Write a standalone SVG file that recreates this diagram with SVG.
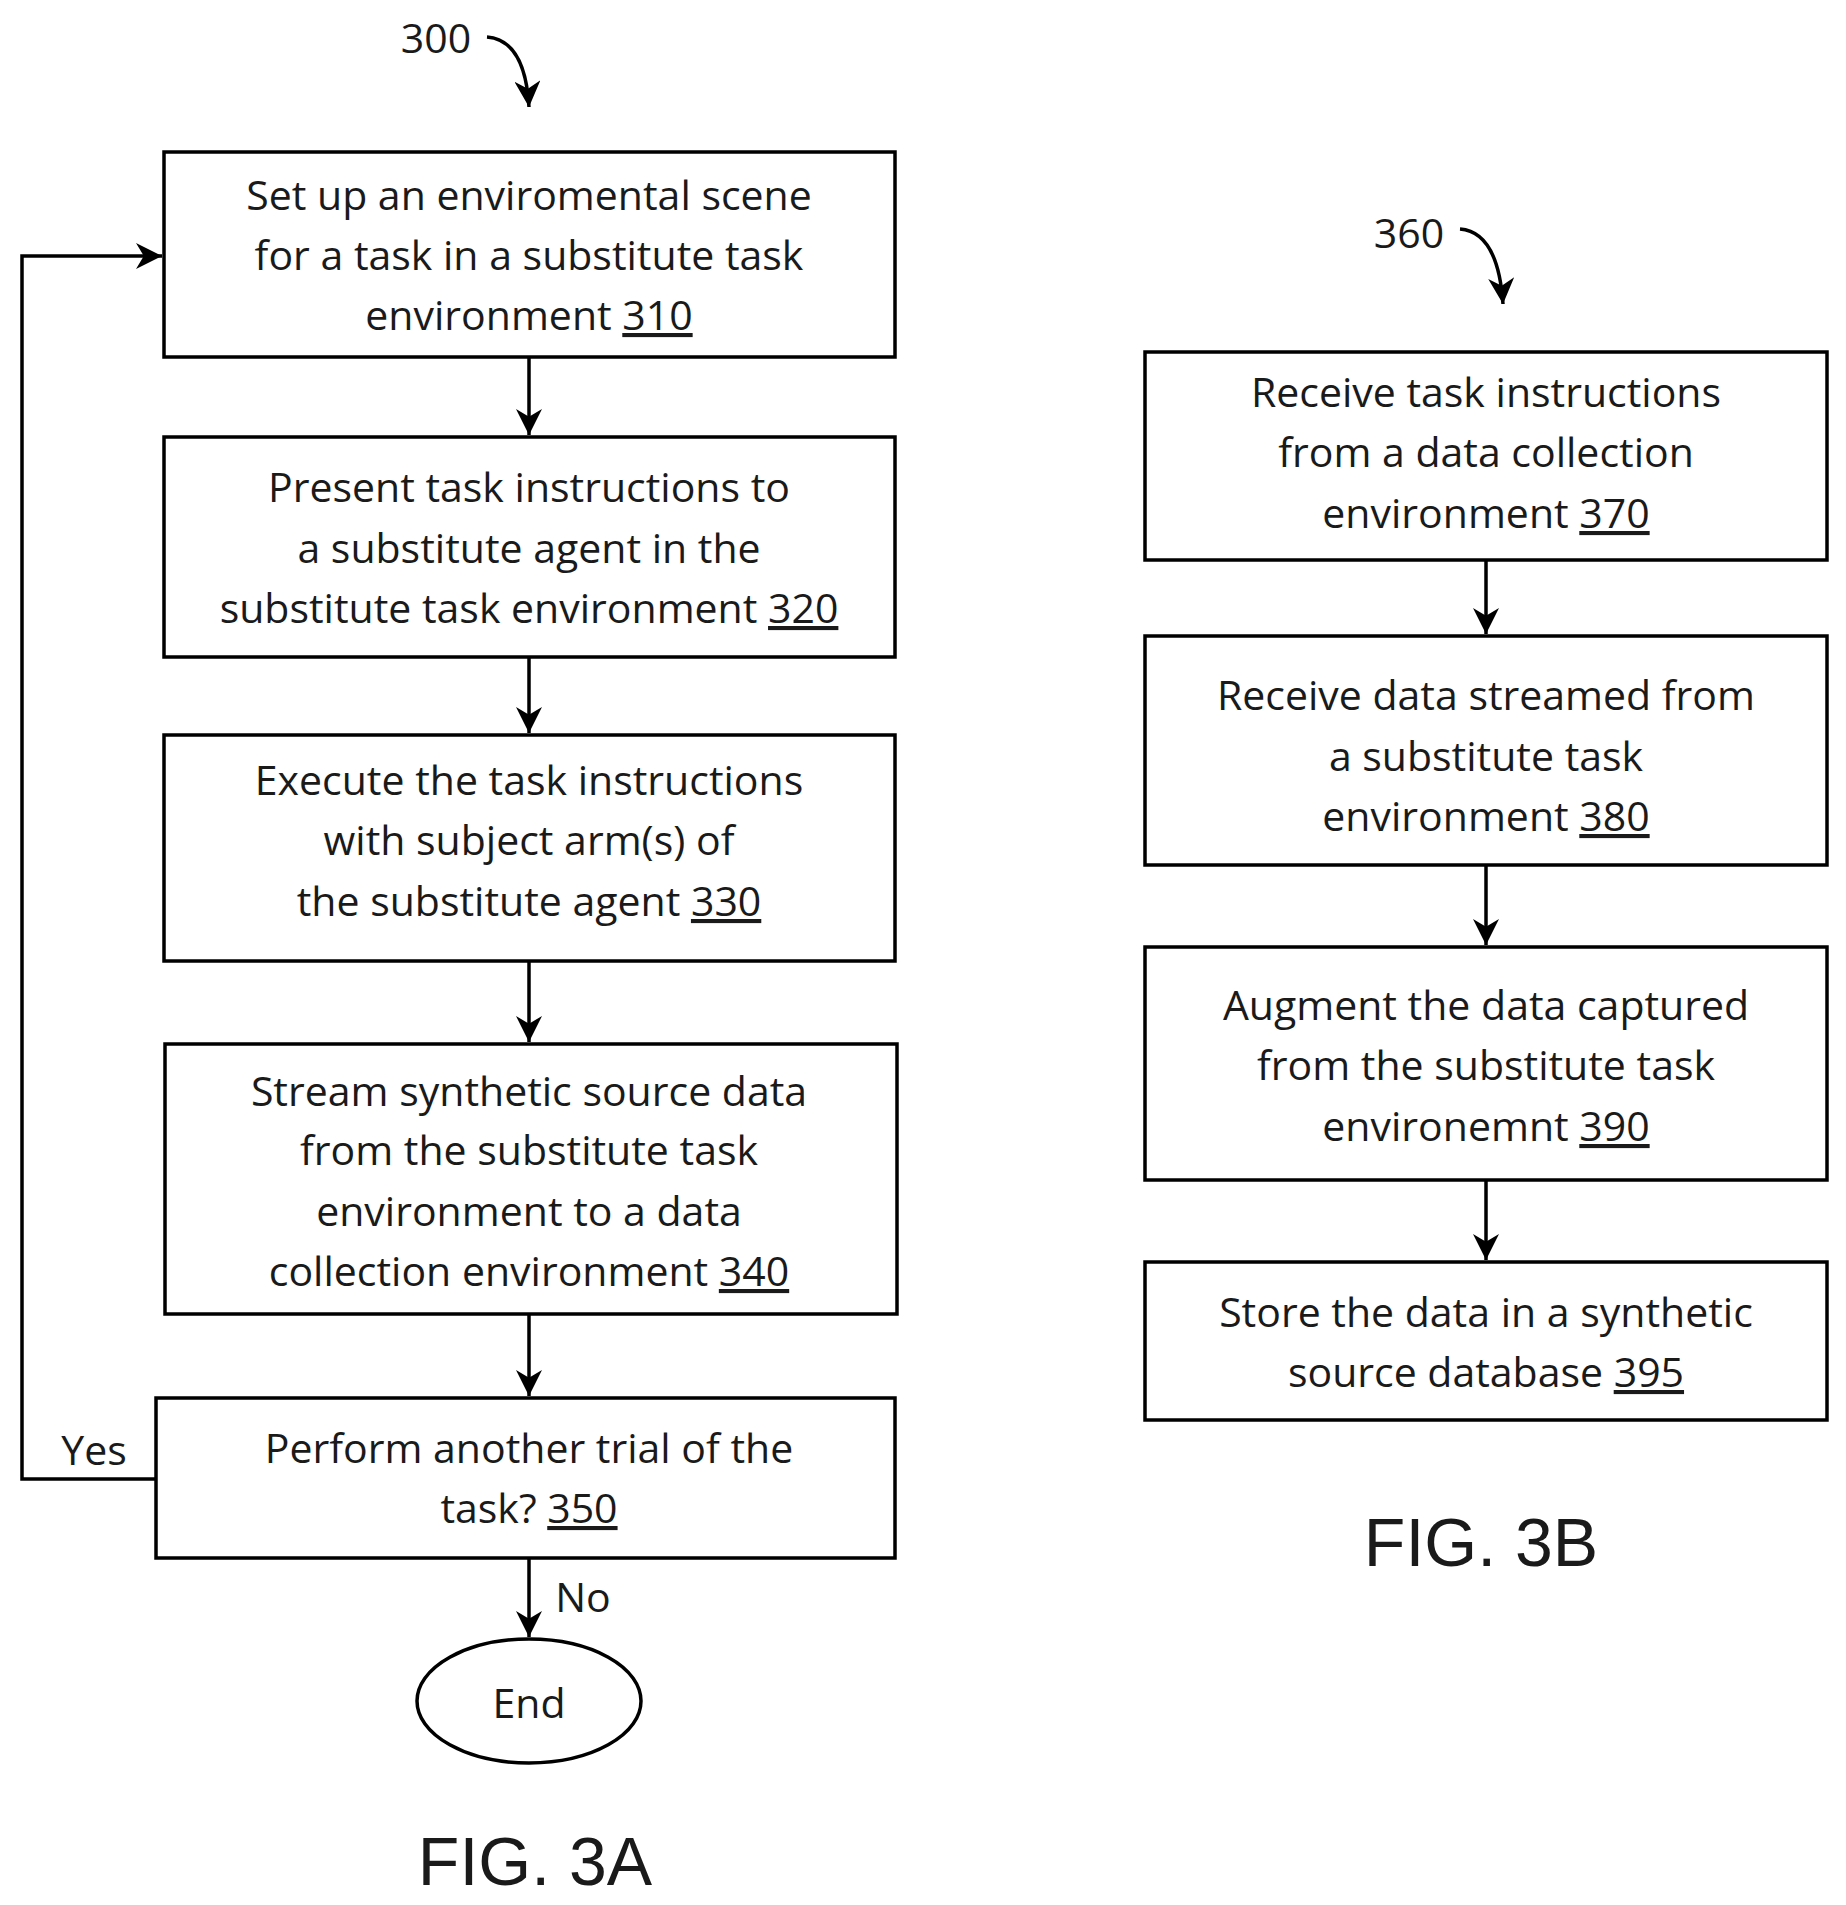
<svg xmlns="http://www.w3.org/2000/svg" width="1846" height="1905" viewBox="0 0 1846 1905">
<style>
.b{fill:#fff;stroke:#000;stroke-width:3.5}
.t{font-family:"Open Sans","Liberation Sans",sans-serif;font-size:41px;fill:#1a1a1a;text-anchor:middle}
.u{text-decoration:underline}
.c{fill:none;stroke:#000;stroke-width:3.5}
.f{font-family:"Liberation Sans",sans-serif;font-size:68px;fill:#1a1a1a;text-anchor:middle}
</style>
<defs>
<marker id="a" viewBox="0 0 10 10" refX="10" refY="5" markerWidth="26" markerHeight="26" markerUnits="userSpaceOnUse" orient="auto">
<path d="M0,0 L10,5 L0,10 L3,5 z" fill="#000"/>
</marker>
</defs>
<rect width="1846" height="1905" fill="#fff"/>
<g id="connectors">
<line class="c" x1="529" y1="357" x2="529" y2="435" marker-end="url(#a)"/>
<line class="c" x1="529" y1="657" x2="529" y2="733" marker-end="url(#a)"/>
<line class="c" x1="529" y1="961" x2="529" y2="1042" marker-end="url(#a)"/>
<line class="c" x1="529" y1="1314" x2="529" y2="1396" marker-end="url(#a)"/>
<line class="c" x1="529" y1="1558" x2="529" y2="1637" marker-end="url(#a)"/>
<polyline class="c" points="156,1479 22,1479 22,256 162,256" marker-end="url(#a)"/>
<line class="c" x1="1486" y1="560" x2="1486" y2="634" marker-end="url(#a)"/>
<line class="c" x1="1486" y1="865" x2="1486" y2="945" marker-end="url(#a)"/>
<line class="c" x1="1486" y1="1180" x2="1486" y2="1260" marker-end="url(#a)"/>
<path class="c" d="M487,37 Q525,40 529,107" marker-end="url(#a)"/>
<path class="c" d="M1460,229 Q1498,232 1503,304" marker-end="url(#a)"/>
<text class="t" x="94" y="1465">Yes</text>
<text class="t" x="583" y="1612">No</text>
</g>
<text class="t" x="436" y="53">300</text>
<text class="t" x="1409" y="248">360</text>
<g id="n310"><rect class="b" x="164" y="152" width="731" height="205"/>
<text class="t" x="529" y="210">Set up an enviromental scene</text>
<text class="t" x="529" y="270">for a task in a substitute task</text>
<text class="t" x="529" y="330">environment <tspan class="u">310</tspan></text></g>
<g id="n320"><rect class="b" x="164" y="437" width="731" height="220"/>
<text class="t" x="529" y="502">Present task instructions to</text>
<text class="t" x="529" y="563">a substitute agent in the</text>
<text class="t" x="529" y="623">substitute task environment <tspan class="u">320</tspan></text></g>
<g id="n330"><rect class="b" x="164" y="735" width="731" height="226"/>
<text class="t" x="529" y="795">Execute the task instructions</text>
<text class="t" x="529" y="855">with subject arm(s) of</text>
<text class="t" x="529" y="916">the substitute agent <tspan class="u">330</tspan></text></g>
<g id="n340"><rect class="b" x="165" y="1044" width="732" height="270"/>
<text class="t" x="529" y="1106">Stream synthetic source data</text>
<text class="t" x="529" y="1165">from the substitute task</text>
<text class="t" x="529" y="1226">environment to a data</text>
<text class="t" x="529" y="1286">collection environment <tspan class="u">340</tspan></text></g>
<g id="n350"><rect class="b" x="156" y="1398" width="739" height="160"/>
<text class="t" x="529" y="1463">Perform another trial of the</text>
<text class="t" x="529" y="1523">task? <tspan class="u">350</tspan></text></g>
<g id="end"><ellipse class="b" cx="529" cy="1701" rx="112" ry="62"/>
<text class="t" x="529" y="1718">End</text></g>
<text class="f" x="535" y="1885">FIG. 3A</text>
<g id="n370"><rect class="b" x="1145" y="352" width="682" height="208"/>
<text class="t" x="1486" y="407">Receive task instructions</text>
<text class="t" x="1486" y="467">from a data collection</text>
<text class="t" x="1486" y="528">environment <tspan class="u">370</tspan></text></g>
<g id="n380"><rect class="b" x="1145" y="636" width="682" height="229"/>
<text class="t" x="1486" y="710">Receive data streamed from</text>
<text class="t" x="1486" y="771">a substitute task</text>
<text class="t" x="1486" y="831">environment <tspan class="u">380</tspan></text></g>
<g id="n390"><rect class="b" x="1145" y="947" width="682" height="233"/>
<text class="t" x="1486" y="1020">Augment the data captured</text>
<text class="t" x="1486" y="1080">from the substitute task</text>
<text class="t" x="1486" y="1141">environemnt <tspan class="u">390</tspan></text></g>
<g id="n395"><rect class="b" x="1145" y="1262" width="682" height="158"/>
<text class="t" x="1486" y="1327">Store the data in a synthetic</text>
<text class="t" x="1486" y="1387">source database <tspan class="u">395</tspan></text></g>
<text class="f" x="1481" y="1566">FIG. 3B</text>
</svg>
